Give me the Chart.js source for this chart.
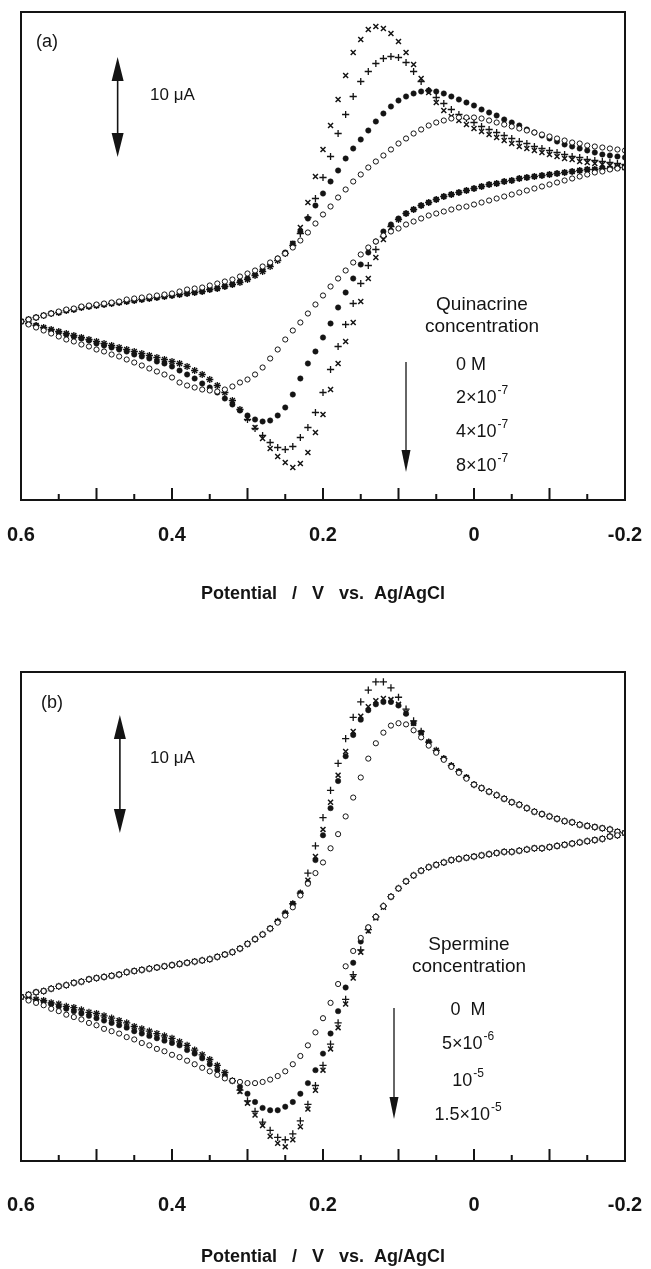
<!DOCTYPE html>
<html>
<head>
<meta charset="utf-8">
<script src="https://cdn.jsdelivr.net/npm/chart.js@4.4.1/dist/chart.umd.min.js"></script>
<style>
  html, body { margin: 0; padding: 0; background: #fff; }
  body { width: 651px; height: 1269px; position: relative; overflow: hidden; }
  canvas { position: absolute; left: 0; }
  #cvA { top: 0; }
  #cvB { top: 660px; }
</style>
</head>
<body>
<canvas id="cvA" width="651" height="612"></canvas>
<canvas id="cvB" width="651" height="609"></canvas>
<script>
// Cyclic voltammograms, current in uA (0 = where the loops start at 0.6 V)

// potential grid, V (forward sweep order; the return sweep uses the same points)
const POTENTIAL = [
  0.6, 0.59, 0.58, 0.57, 0.56, 0.55, 0.54, 0.53, 0.52, 0.51,
  0.5, 0.49, 0.48, 0.47, 0.46, 0.45, 0.44, 0.43, 0.42, 0.41,
  0.4, 0.39, 0.38, 0.37, 0.36, 0.35, 0.34, 0.33, 0.32, 0.31,
  0.3, 0.29, 0.28, 0.27, 0.26, 0.25, 0.24, 0.23, 0.22, 0.21,
  0.2, 0.19, 0.18, 0.17, 0.16, 0.15, 0.14, 0.13, 0.12, 0.11,
  0.1, 0.09, 0.08, 0.07, 0.06, 0.05, 0.04, 0.03, 0.02, 0.01,
  0, -0.01, -0.02, -0.03, -0.04, -0.05, -0.06, -0.07, -0.08, -0.09,
  -0.1, -0.11, -0.12, -0.13, -0.14, -0.15, -0.16, -0.17, -0.18, -0.19,
  -0.2
];

const X_TICKS = [-0.2, 0, 0.2, 0.4, 0.6];
const MAJOR_TICKS = [0.6, 0.5, 0.4, 0.3, 0.2, 0.1, 0, -0.1, -0.2];
const MINOR_TICKS = [0.55, 0.45, 0.35, 0.25, 0.15, 0.05, -0.05, -0.15];
const X_TITLE = 'Potential   /   V   vs.  Ag/AgCl';

// ---- (a) quinacrine: 0, 2e-7, 4e-7, 8e-7 M ----
const A_LABELS = ['0 M', '2×10|-7', '4×10|-7', '8×10|-7'];
const A_UP_0 = [
  0.0, 0.2, 0.4, 0.6, 0.8, 1.0, 1.2, 1.3, 1.5, 1.6,
  1.7, 1.8, 1.9, 2.0, 2.2, 2.3, 2.4, 2.5, 2.6, 2.7,
  2.8, 3.0, 3.2, 3.3, 3.4, 3.6, 3.8, 4.0, 4.2, 4.5,
  4.8, 5.1, 5.5, 5.9, 6.3, 6.8, 7.4, 8.1, 8.9, 9.8,
  10.7, 11.5, 12.4, 13.2, 14.0, 14.7, 15.4, 16.0, 16.6, 17.2,
  17.8, 18.3, 18.8, 19.2, 19.6, 19.9, 20.1, 20.3, 20.4, 20.4,
  20.4, 20.3, 20.1, 19.9, 19.7, 19.5, 19.3, 19.1, 18.9, 18.7,
  18.5, 18.3, 18.1, 17.9, 17.8, 17.6, 17.5, 17.4, 17.3, 17.2,
  17.1
];
const A_DN_0 = [
  0.0, -0.3, -0.6, -0.9, -1.2, -1.5, -1.8, -2.0, -2.3, -2.5,
  -2.8, -3.0, -3.3, -3.5, -3.8, -4.1, -4.4, -4.7, -5.0, -5.3,
  -5.6, -6.1, -6.4, -6.6, -6.8, -6.9, -7.0, -6.8, -6.5, -6.1,
  -5.8, -5.3, -4.6, -3.7, -2.8, -1.8, -0.9, -0.1, 0.8, 1.7,
  2.6, 3.5, 4.3, 5.1, 5.9, 6.7, 7.4, 8.0, 8.6, 9.0,
  9.3, 9.7, 10.0, 10.3, 10.6, 10.8, 11.0, 11.2, 11.4, 11.5,
  11.7, 11.9, 12.1, 12.3, 12.5, 12.7, 12.9, 13.1, 13.3, 13.5,
  13.7, 13.9, 14.1, 14.3, 14.5, 14.7, 14.9, 15.0, 15.2, 15.3,
  15.4
];
const A_UP_2 = [
  0.0, 0.2, 0.4, 0.6, 0.8, 0.9, 1.1, 1.2, 1.4, 1.5,
  1.6, 1.7, 1.8, 1.9, 2.0, 2.1, 2.2, 2.3, 2.4, 2.5,
  2.6, 2.7, 2.8, 2.9, 3.0, 3.2, 3.3, 3.5, 3.7, 4.0,
  4.3, 4.7, 5.2, 5.7, 6.3, 6.9, 7.8, 9.0, 10.3, 11.6,
  12.8, 14.0, 15.1, 16.3, 17.3, 18.2, 19.1, 20.0, 20.8, 21.5,
  22.1, 22.5, 22.8, 23.0, 23.1, 23.0, 22.8, 22.5, 22.2, 21.9,
  21.6, 21.2, 20.9, 20.6, 20.2, 19.9, 19.6, 19.2, 18.9, 18.6,
  18.3, 18.0, 17.7, 17.5, 17.3, 17.1, 16.9, 16.7, 16.6, 16.5,
  16.4
];
const A_DN_2 = [
  0.0, -0.2, -0.4, -0.7, -0.9, -1.1, -1.3, -1.5, -1.7, -1.9,
  -2.2, -2.4, -2.6, -2.8, -3.0, -3.3, -3.5, -3.7, -4.0, -4.2,
  -4.5, -4.9, -5.3, -5.7, -6.2, -6.6, -7.1, -7.7, -8.3, -8.9,
  -9.4, -9.8, -10.0, -9.9, -9.4, -8.6, -7.3, -5.7, -4.2, -3.0,
  -1.6, -0.2, 1.4, 2.9, 4.3, 5.7, 6.9, 8.0, 9.0, 9.7,
  10.3, 10.8, 11.2, 11.6, 11.9, 12.2, 12.5, 12.7, 12.9, 13.1,
  13.3, 13.5, 13.7, 13.8, 14.0, 14.1, 14.3, 14.4, 14.5, 14.6,
  14.7, 14.8, 14.9, 15.0, 15.1, 15.2, 15.2, 15.3, 15.3, 15.4,
  15.4
];
const A_UP_4 = [
  0.0, 0.2, 0.4, 0.6, 0.8, 0.9, 1.1, 1.2, 1.4, 1.5,
  1.6, 1.7, 1.8, 1.9, 2.0, 2.1, 2.2, 2.3, 2.4, 2.5,
  2.6, 2.7, 2.8, 2.9, 3.0, 3.2, 3.3, 3.5, 3.7, 3.9,
  4.2, 4.6, 5.0, 5.5, 6.1, 6.8, 7.6, 8.8, 10.4, 12.3,
  14.4, 16.5, 18.8, 20.7, 22.5, 24.0, 25.0, 25.8, 26.3, 26.5,
  26.4, 25.9, 25.0, 24.0, 23.1, 22.4, 21.8, 21.2, 20.7, 20.3,
  19.9, 19.5, 19.2, 18.9, 18.6, 18.3, 18.0, 17.8, 17.5, 17.3,
  17.1, 16.9, 16.7, 16.5, 16.4, 16.2, 16.1, 16.0, 15.9, 15.8,
  15.7
];
const A_DN_4 = [
  0.0, -0.2, -0.4, -0.6, -0.8, -1.0, -1.2, -1.4, -1.6, -1.8,
  -2.0, -2.2, -2.4, -2.6, -2.8, -3.0, -3.2, -3.4, -3.6, -3.8,
  -4.0, -4.2, -4.5, -4.9, -5.3, -5.8, -6.4, -7.1, -7.9, -8.8,
  -9.8, -10.7, -11.4, -12.1, -12.6, -12.8, -12.5, -11.6, -10.6, -9.1,
  -7.1, -4.8, -2.5, -0.3, 1.8, 3.8, 5.6, 7.2, 8.5, 9.5,
  10.2, 10.8, 11.2, 11.6, 11.9, 12.2, 12.5, 12.7, 12.9, 13.1,
  13.3, 13.5, 13.7, 13.8, 14.0, 14.1, 14.3, 14.4, 14.5, 14.6,
  14.7, 14.8, 14.9, 15.0, 15.1, 15.2, 15.2, 15.3, 15.3, 15.4,
  15.4
];
const A_UP_8 = [
  0.0, 0.2, 0.4, 0.6, 0.8, 0.9, 1.1, 1.2, 1.4, 1.5,
  1.6, 1.7, 1.8, 1.9, 2.0, 2.1, 2.2, 2.3, 2.4, 2.5,
  2.6, 2.7, 2.8, 2.9, 3.0, 3.2, 3.3, 3.5, 3.7, 3.9,
  4.2, 4.6, 5.0, 5.5, 6.1, 6.8, 7.8, 9.4, 11.9, 14.5,
  17.2, 19.6, 22.2, 24.6, 26.9, 28.2, 29.2, 29.5, 29.3, 28.8,
  28.0, 26.9, 25.7, 24.3, 22.9, 21.9, 21.1, 20.5, 20.1, 19.7,
  19.3, 19.0, 18.7, 18.4, 18.1, 17.8, 17.5, 17.3, 17.1, 16.9,
  16.7, 16.5, 16.3, 16.2, 16.0, 15.9, 15.8, 15.7, 15.6, 15.5,
  15.4
];
const A_DN_8 = [
  0.0, -0.2, -0.4, -0.6, -0.8, -1.0, -1.2, -1.4, -1.6, -1.8,
  -2.0, -2.2, -2.4, -2.6, -2.8, -3.0, -3.2, -3.4, -3.6, -3.8,
  -4.0, -4.2, -4.5, -4.9, -5.3, -5.8, -6.4, -7.1, -7.9, -8.8,
  -9.7, -10.6, -11.7, -12.7, -13.5, -14.1, -14.6, -14.2, -13.1, -11.1,
  -9.3, -6.8, -4.2, -2.0, -0.1, 2.0, 4.3, 6.4, 8.2, 9.4,
  10.2, 10.8, 11.2, 11.6, 11.9, 12.2, 12.5, 12.7, 12.9, 13.1,
  13.3, 13.5, 13.7, 13.8, 14.0, 14.1, 14.3, 14.4, 14.5, 14.6,
  14.7, 14.8, 14.9, 15.0, 15.1, 15.2, 15.2, 15.3, 15.3, 15.4,
  15.4
];

// ---- (b) spermine: 0, 5e-6, 1e-5, 1.5e-5 M ----
const B_LABELS = ['0  M', '5×10|-6', '10|-5', '1.5×10|-5'];
const B_UP_0 = [
  0.0, 0.2, 0.4, 0.5, 0.7, 0.9, 1.0, 1.2, 1.3, 1.5,
  1.6, 1.7, 1.8, 1.9, 2.1, 2.2, 2.3, 2.4, 2.5, 2.6,
  2.7, 2.8, 2.9, 3.0, 3.1, 3.2, 3.4, 3.6, 3.8, 4.1,
  4.5, 4.9, 5.3, 5.8, 6.3, 6.9, 7.6, 8.6, 9.6, 10.5,
  11.4, 12.6, 13.8, 15.3, 16.9, 18.6, 20.2, 21.5, 22.4, 23.0,
  23.2, 23.1, 22.6, 22.0, 21.3, 20.7, 20.1, 19.5, 19.0, 18.5,
  18.0, 17.7, 17.4, 17.1, 16.8, 16.5, 16.3, 16.0, 15.7, 15.5,
  15.3, 15.1, 14.9, 14.8, 14.6, 14.5, 14.4, 14.3, 14.2, 14.0,
  13.9
];
const B_DN_0 = [
  0.0, -0.3, -0.5, -0.7, -1.0, -1.2, -1.5, -1.7, -1.9, -2.2,
  -2.4, -2.7, -2.9, -3.1, -3.4, -3.6, -3.9, -4.1, -4.4, -4.6,
  -4.9, -5.1, -5.4, -5.7, -6.0, -6.3, -6.6, -6.9, -7.1, -7.2,
  -7.3, -7.3, -7.2, -7.0, -6.7, -6.3, -5.7, -5.0, -4.1, -3.0,
  -1.8, -0.5, 1.1, 2.6, 3.9, 5.0, 5.9, 6.8, 7.7, 8.5,
  9.2, 9.8, 10.3, 10.7, 11.0, 11.2, 11.4, 11.6, 11.7, 11.8,
  11.9, 12.0, 12.1, 12.2, 12.3, 12.3, 12.4, 12.5, 12.6, 12.6,
  12.7, 12.8, 12.9, 13.0, 13.1, 13.2, 13.3, 13.4, 13.6, 13.7,
  13.9
];
const B_UP_5 = [
  0.0, 0.2, 0.4, 0.5, 0.7, 0.9, 1.0, 1.2, 1.3, 1.5,
  1.6, 1.7, 1.8, 1.9, 2.1, 2.2, 2.3, 2.4, 2.5, 2.6,
  2.7, 2.8, 2.9, 3.0, 3.1, 3.2, 3.4, 3.6, 3.8, 4.1,
  4.5, 4.9, 5.3, 5.8, 6.4, 7.1, 7.9, 8.8, 9.7, 11.6,
  13.7, 16.0, 18.3, 20.4, 22.2, 23.5, 24.3, 24.8, 25.0, 25.0,
  24.7, 24.0, 23.2, 22.4, 21.6, 20.8, 20.2, 19.6, 19.1, 18.6,
  18.0, 17.7, 17.4, 17.1, 16.8, 16.5, 16.3, 16.0, 15.7, 15.5,
  15.3, 15.1, 14.9, 14.8, 14.6, 14.5, 14.4, 14.3, 14.2, 14.0,
  13.9
];
const B_DN_5 = [
  0.0, -0.1, -0.3, -0.4, -0.6, -0.8, -1.0, -1.2, -1.4, -1.6,
  -1.8, -2.0, -2.2, -2.4, -2.6, -2.9, -3.1, -3.3, -3.5, -3.7,
  -3.9, -4.1, -4.5, -4.8, -5.2, -5.7, -6.2, -6.7, -7.1, -7.6,
  -8.2, -8.9, -9.4, -9.6, -9.6, -9.3, -8.9, -8.2, -7.3, -6.2,
  -4.8, -3.1, -1.2, 0.8, 2.9, 4.7, 5.9, 6.8, 7.7, 8.5,
  9.2, 9.8, 10.3, 10.7, 11.0, 11.2, 11.4, 11.6, 11.7, 11.8,
  11.9, 12.0, 12.1, 12.2, 12.3, 12.3, 12.4, 12.5, 12.6, 12.6,
  12.7, 12.8, 12.9, 13.0, 13.1, 13.2, 13.3, 13.4, 13.6, 13.7,
  13.9
];
const B_UP_10 = [
  0.0, 0.2, 0.4, 0.5, 0.7, 0.9, 1.0, 1.2, 1.3, 1.5,
  1.6, 1.7, 1.8, 1.9, 2.1, 2.2, 2.3, 2.4, 2.5, 2.6,
  2.7, 2.8, 2.9, 3.0, 3.1, 3.2, 3.4, 3.6, 3.8, 4.1,
  4.5, 4.9, 5.3, 5.8, 6.4, 7.1, 7.9, 8.8, 10.5, 12.8,
  15.2, 17.5, 19.8, 21.9, 23.7, 25.0, 26.0, 26.7, 26.7, 26.2,
  25.4, 24.4, 23.4, 22.5, 21.6, 20.9, 20.2, 19.6, 19.1, 18.6,
  18.0, 17.7, 17.4, 17.1, 16.8, 16.5, 16.3, 16.0, 15.7, 15.5,
  15.3, 15.1, 14.9, 14.8, 14.6, 14.5, 14.4, 14.3, 14.2, 14.0,
  13.9
];
const B_DN_10 = [
  0.0, -0.1, -0.2, -0.3, -0.5, -0.6, -0.8, -0.9, -1.1, -1.3,
  -1.4, -1.6, -1.8, -2.0, -2.2, -2.5, -2.7, -2.9, -3.1, -3.3,
  -3.5, -3.8, -4.1, -4.5, -4.9, -5.3, -5.8, -6.4, -7.1, -7.9,
  -8.8, -9.7, -10.6, -11.3, -11.9, -12.1, -11.6, -10.5, -9.1, -7.5,
  -5.8, -4.0, -2.2, -0.2, 1.9, 4.0, 5.7, 6.8, 7.7, 8.5,
  9.2, 9.8, 10.3, 10.7, 11.0, 11.2, 11.4, 11.6, 11.7, 11.8,
  11.9, 12.0, 12.1, 12.2, 12.3, 12.3, 12.4, 12.5, 12.6, 12.6,
  12.7, 12.8, 12.9, 13.0, 13.1, 13.2, 13.3, 13.4, 13.6, 13.7,
  13.9
];
const B_UP_15 = [
  0.0, 0.2, 0.4, 0.5, 0.7, 0.9, 1.0, 1.2, 1.3, 1.5,
  1.6, 1.7, 1.8, 1.9, 2.1, 2.2, 2.3, 2.4, 2.5, 2.6,
  2.7, 2.8, 2.9, 3.0, 3.1, 3.2, 3.4, 3.6, 3.8, 4.1,
  4.5, 4.9, 5.3, 5.8, 6.4, 7.1, 7.9, 8.8, 9.9, 11.9,
  14.2, 16.5, 18.8, 20.8, 22.5, 23.8, 24.6, 25.1, 25.3, 25.2,
  24.8, 24.1, 23.2, 22.4, 21.6, 20.9, 20.2, 19.6, 19.1, 18.6,
  18.0, 17.7, 17.4, 17.1, 16.8, 16.5, 16.3, 16.0, 15.7, 15.5,
  15.3, 15.1, 14.9, 14.8, 14.6, 14.5, 14.4, 14.3, 14.2, 14.0,
  13.9
];
const B_DN_15 = [
  0.0, -0.1, -0.2, -0.3, -0.5, -0.6, -0.8, -0.9, -1.1, -1.3,
  -1.4, -1.6, -1.8, -2.0, -2.2, -2.5, -2.7, -2.9, -3.1, -3.3,
  -3.5, -3.8, -4.1, -4.5, -4.9, -5.3, -5.8, -6.4, -7.1, -8.0,
  -9.0, -10.0, -10.9, -11.8, -12.4, -12.7, -12.1, -11.0, -9.5, -7.9,
  -6.2, -4.4, -2.6, -0.6, 1.6, 3.8, 5.6, 6.7, 7.6, 8.5,
  9.2, 9.8, 10.3, 10.7, 11.0, 11.2, 11.4, 11.6, 11.7, 11.8,
  11.9, 12.0, 12.1, 12.2, 12.3, 12.3, 12.4, 12.5, 12.6, 12.6,
  12.7, 12.8, 12.9, 13.0, 13.1, 13.2, 13.3, 13.4, 13.6, 13.7,
  13.9
];

const INK = '#141414';
const FONT = '"Liberation Sans", Arial, Helvetica, sans-serif';

// marker look per concentration: open circle, filled circle, plus, cross
const MARKERS = [
  { pointStyle: 'circle', pointRadius: 2.6, pointBorderWidth: 1.0, pointBackgroundColor: '#fff', pointBorderColor: INK },
  { pointStyle: 'circle', pointRadius: 2.7, pointBorderWidth: 0.5, pointBackgroundColor: INK, pointBorderColor: INK },
  { pointStyle: 'cross', pointRadius: 3.6, pointBorderWidth: 1.3, pointBackgroundColor: INK, pointBorderColor: INK },
  { pointStyle: 'crossRot', pointRadius: 3.5, pointBorderWidth: 1.5, pointBackgroundColor: INK, pointBorderColor: INK }
];

function loop(up, down) {
  const fwd = POTENTIAL.map((v, i) => ({ x: v, y: up[i] }));
  const back = POTENTIAL.map((v, i) => ({ x: v, y: down[i] }));
  return fwd.concat(back.reverse());
}

function arrowHead(ctx, x, tip, dir, w, l) {
  ctx.beginPath();
  ctx.moveTo(x, tip);
  ctx.lineTo(x - w / 2, tip - dir * l);
  ctx.lineTo(x + w / 2, tip - dir * l);
  ctx.closePath();
  ctx.fill();
}

// "2×10|-7" -> base text with a raised exponent
function writeConc(ctx, label, x, y, align) {
  const parts = label.split('|');
  ctx.font = '18px ' + FONT;
  const wb = ctx.measureText(parts[0]).width;
  ctx.font = '12px ' + FONT;
  const ws = parts[1] ? ctx.measureText(parts[1]).width + 1 : 0;
  const x0 = align === 'center' ? x - (wb + ws) / 2 : x;
  ctx.textAlign = 'left';
  ctx.font = '18px ' + FONT;
  ctx.fillText(parts[0], x0, y);
  if (parts[1]) {
    ctx.font = '12px ' + FONT;
    ctx.fillText(parts[1], x0 + wb + 1, y - 7);
  }
}

const decor = {
  id: 'decor',
  afterDraw(chart, args, o) {
    const { ctx, chartArea: a } = chart;
    const xs = chart.scales.x, ys = chart.scales.y;
    ctx.save();
    ctx.strokeStyle = INK;
    ctx.fillStyle = INK;

    // frame and inward ticks
    ctx.lineWidth = 2;
    ctx.strokeRect(a.left, a.top, a.right - a.left, a.bottom - a.top);
    ctx.beginPath();
    MAJOR_TICKS.forEach(v => {
      const p = xs.getPixelForValue(v);
      ctx.moveTo(p, a.bottom); ctx.lineTo(p, a.bottom - 12);
    });
    MINOR_TICKS.forEach(v => {
      const p = xs.getPixelForValue(v);
      ctx.moveTo(p, a.bottom); ctx.lineTo(p, a.bottom - 6);
    });
    ctx.stroke();

    ctx.textBaseline = 'middle';
    ctx.textAlign = 'center';
    ctx.font = '18px ' + FONT;
    ctx.fillText(o.tag, o.tagAt[0], o.tagAt[1]);

    // 10 uA scale bar measured on the y scale
    const bx = xs.getPixelForValue(o.bar.at);
    const lo = ys.getPixelForValue(o.bar.from);
    const hi = ys.getPixelForValue(o.bar.from + 10);
    ctx.lineWidth = 1.6;
    ctx.beginPath();
    ctx.moveTo(bx, hi + 20); ctx.lineTo(bx, lo - 20);
    ctx.stroke();
    arrowHead(ctx, bx, hi, -1, 12, 24);
    arrowHead(ctx, bx, lo, 1, 12, 24);
    ctx.textAlign = 'left';
    ctx.font = '17px ' + FONT;
    ctx.fillText('10 μA', o.barText[0], o.barText[1]);

    // concentration legend
    ctx.textAlign = 'center';
    ctx.font = '19px ' + FONT;
    o.heading.forEach((t, i) => ctx.fillText(t, o.headAt[0], o.headAt[1] + i * 22));
    o.labels.forEach((t, i) => writeConc(ctx, t, o.labX, o.labY[i], o.labAlign));
    ctx.lineWidth = 1.3;
    ctx.beginPath();
    ctx.moveTo(o.arrow[0], o.arrow[1]); ctx.lineTo(o.arrow[0], o.arrow[2] - 18);
    ctx.stroke();
    arrowHead(ctx, o.arrow[0], o.arrow[2], 1, 9, 22);
    ctx.restore();
  }
};

function buildChart(id, series, yRange, axis, deco) {
  return new Chart(document.getElementById(id), {
    type: 'scatter',
    data: {
      datasets: series.map((s, k) => Object.assign({ label: deco.labels[k], data: loop(s[0], s[1]) }, MARKERS[k]))
    },
    options: {
      responsive: false,
      animation: false,
      devicePixelRatio: 1,
      layout: { padding: { top: 12, left: 21, right: 26, bottom: 0 } },
      plugins: {
        legend: { display: false },
        tooltip: { enabled: false },
        decor: deco
      },
      scales: {
        x: {
          type: 'linear',
          reverse: true,
          min: -0.2,
          max: 0.6,
          afterBuildTicks: s => { s.ticks = X_TICKS.map(v => ({ value: v })); },
          afterFit: s => { s.height = axis.height; },
          grid: { display: false, drawTicks: false },
          border: { display: false },
          ticks: {
            padding: axis.tickPad,
            color: INK,
            maxRotation: 0,
            autoSkip: false,
            font: { family: FONT, size: 20, weight: 'bold' },
            callback: v => String(v)
          },
          title: {
            display: true,
            text: X_TITLE,
            color: INK,
            font: { family: FONT, size: 18, weight: 'bold' },
            padding: { top: 0, bottom: axis.titlePad }
          }
        },
        y: { display: false, min: yRange[0], max: yRange[1] }
      }
    },
    plugins: [decor]
  });
}

buildChart('cvA',
  [[A_UP_0, A_DN_0], [A_UP_2, A_DN_2], [A_UP_4, A_DN_4], [A_UP_8, A_DN_8]],
  [-17.85, 30.95],
  { height: 112, tickPad: 23, titlePad: 7 },
  {
    tag: '(a)', tagAt: [47, 42],
    bar: { at: 0.472, from: 16.45 }, barText: [150, 95],
    heading: ['Quinacrine', 'concentration'], headAt: [482, 305],
    labels: A_LABELS, labX: 456, labY: [365, 398, 432, 466], labAlign: 'left',
    arrow: [406, 362, 472]
  });

buildChart('cvB',
  [[B_UP_0, B_DN_0], [B_UP_5, B_DN_5], [B_UP_10, B_DN_10], [B_UP_15, B_DN_15]],
  [-13.9, 27.54],
  { height: 108, tickPad: 32, titlePad: 1 },
  {
    tag: '(b)', tagAt: [52, 43],
    bar: { at: 0.469, from: 13.9 }, barText: [150, 98],
    heading: ['Spermine', 'concentration'], headAt: [469, 285],
    labels: B_LABELS, labX: 468, labY: [350, 384, 421, 455], labAlign: 'center',
    arrow: [394, 348, 459]
  });
</script>
</body>
</html>
